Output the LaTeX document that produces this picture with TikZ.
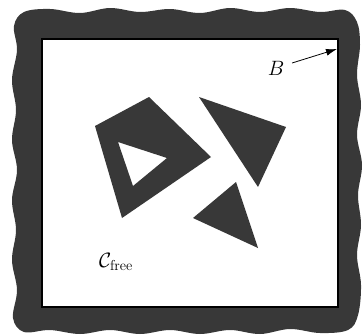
\documentclass[tikz,border=0pt]{standalone}
\usetikzlibrary{arrows.meta}
\tikzset{
  blob/.style={fill=black!78},
  lbl/.style={font=\fontsize{22}{26}\selectfont, inner sep=0pt},
}
\begin{document}
\begin{tikzpicture}[x=1pt,y=-1pt]
    \useasboundingbox (0,0) rectangle (364,335);

    % boundary B (wavy band)
    \fill[blob] plot[smooth cycle, tension=0.6] coordinates {
      (24,12) (50,9) (80,13) (110,8) (140,12) (170,9) (200,13) (230,8)
      (260,12) (290,8) (320,12) (345,10) (357,22) (360,45) (357,75)
      (361,105) (357,135) (362,165) (358,195) (361,225) (357,255)
      (361,285) (358,315) (348,330) (320,333) (290,329) (260,334)
      (230,330) (200,334) (170,330) (140,334) (110,330) (80,334)
      (50,330) (24,332) (13,318) (17,290) (12,260) (16,230) (12,200)
      (17,170) (12,140) (16,110) (12,80) (17,50) (14,26)};
    \filldraw[fill=white, draw=black, line width=1.5pt] (42,39) rectangle (338,307);

    % obstacles
    \fill[blob, even odd rule] (95,126) -- (149,97) -- (211,157) -- (122,218) -- cycle
      (118,142) -- (167,158) -- (133,186) -- cycle;
    \fill[blob] (199,97) -- (286,127) -- (258,187) -- cycle;
    \fill[blob] (236,182) -- (258,248) -- (193,218) -- cycle;

    % labels
    \node[lbl] (B) at (276,68) {$B$};
    \coordinate (Btip) at (337,49);
    \draw[-{Latex[length=11pt,width=7pt]}, line width=0.8pt, shorten <=8pt] (B) -- (Btip);
    \node[lbl] (Cfree) at (116,262) {$\mathcal{C}_{\mathrm{free}}$};
  \end{tikzpicture}
\end{document}
